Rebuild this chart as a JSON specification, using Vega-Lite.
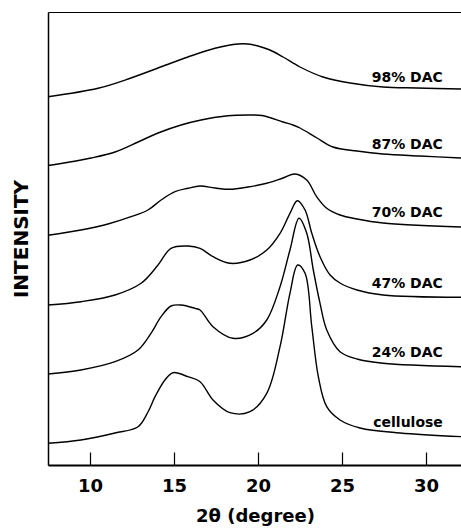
{
  "$schema": "https://vega.github.io/schema/vega-lite/v6.json",
  "width": 414,
  "height": 453,
  "autosize": {"type": "none"},
  "padding": {"left": 48, "top": 12, "right": 0, "bottom": 63},
  "background": "white",
  "config": {"view": {"stroke": null}, "font": "DejaVu Sans"},
  "resolve": {"axis": {"x": "independent"}},
  "datasets": {
    "curves": [
      {"series": "98", "angle": 7.5, "intensity": 368.3},
      {"series": "98", "angle": 10.48, "intensity": 376.7},
      {"series": "98", "angle": 12.44, "intensity": 387},
      {"series": "98", "angle": 14.05, "intensity": 397},
      {"series": "98", "angle": 15.83, "intensity": 408},
      {"series": "98", "angle": 17.44, "intensity": 416.7},
      {"series": "98", "angle": 18.81, "intensity": 421},
      {"series": "98", "angle": 19.4, "intensity": 421},
      {"series": "98", "angle": 20.0, "intensity": 419},
      {"series": "98", "angle": 20.71, "intensity": 415},
      {"series": "98", "angle": 21.49, "intensity": 408},
      {"series": "98", "angle": 22.5, "intensity": 398},
      {"series": "98", "angle": 23.87, "intensity": 388},
      {"series": "98", "angle": 25.48, "intensity": 382},
      {"series": "98", "angle": 27.44, "intensity": 378},
      {"series": "98", "angle": 29.46, "intensity": 377},
      {"series": "98", "angle": 32.14, "intensity": 376},

      {"series": "87", "angle": 7.5, "intensity": 299.5},
      {"series": "87", "angle": 8.1, "intensity": 301},
      {"series": "87", "angle": 10.06, "intensity": 307},
      {"series": "87", "angle": 11.49, "intensity": 313},
      {"series": "87", "angle": 12.86, "intensity": 323},
      {"series": "87", "angle": 14.05, "intensity": 332},
      {"series": "87", "angle": 15.42, "intensity": 340},
      {"series": "87", "angle": 16.61, "intensity": 345},
      {"series": "87", "angle": 18.21, "intensity": 349.3},
      {"series": "87", "angle": 19.4, "intensity": 350},
      {"series": "87", "angle": 20.24, "intensity": 349.5},
      {"series": "87", "angle": 21.49, "intensity": 343},
      {"series": "87", "angle": 22.08, "intensity": 340},
      {"series": "87", "angle": 22.5, "intensity": 337},
      {"series": "87", "angle": 23.51, "intensity": 327},
      {"series": "87", "angle": 24.46, "intensity": 318},
      {"series": "87", "angle": 25.89, "intensity": 314},
      {"series": "87", "angle": 27.44, "intensity": 311},
      {"series": "87", "angle": 29.64, "intensity": 309},
      {"series": "87", "angle": 32.14, "intensity": 307},

      {"series": "70", "angle": 7.5, "intensity": 229.7},
      {"series": "70", "angle": 9.46, "intensity": 235},
      {"series": "70", "angle": 11.07, "intensity": 241},
      {"series": "70", "angle": 12.44, "intensity": 248.3},
      {"series": "70", "angle": 13.45, "intensity": 255},
      {"series": "70", "angle": 14.23, "intensity": 265},
      {"series": "70", "angle": 15.06, "intensity": 273.3},
      {"series": "70", "angle": 15.83, "intensity": 276.7},
      {"series": "70", "angle": 16.55, "intensity": 279},
      {"series": "70", "angle": 17.44, "intensity": 277},
      {"series": "70", "angle": 18.33, "intensity": 275.7},
      {"series": "70", "angle": 19.4, "intensity": 278},
      {"series": "70", "angle": 20.52, "intensity": 281.7},
      {"series": "70", "angle": 21.49, "intensity": 287},
      {"series": "70", "angle": 22.2, "intensity": 291},
      {"series": "70", "angle": 22.9, "intensity": 285},
      {"series": "70", "angle": 23.49, "intensity": 268.3},
      {"series": "70", "angle": 24.09, "intensity": 256.7},
      {"series": "70", "angle": 24.88, "intensity": 250},
      {"series": "70", "angle": 25.89, "intensity": 246},
      {"series": "70", "angle": 27.44, "intensity": 242},
      {"series": "70", "angle": 32.14, "intensity": 238},

      {"series": "47", "angle": 7.5, "intensity": 160},
      {"series": "47", "angle": 9.46, "intensity": 163.3},
      {"series": "47", "angle": 11.49, "intensity": 170},
      {"series": "47", "angle": 13.04, "intensity": 181.7},
      {"series": "47", "angle": 14.05, "intensity": 200},
      {"series": "47", "angle": 14.82, "intensity": 216.7},
      {"series": "47", "angle": 15.83, "intensity": 219},
      {"series": "47", "angle": 16.55, "intensity": 216.7},
      {"series": "47", "angle": 17.32, "intensity": 208.3},
      {"series": "47", "angle": 18.33, "intensity": 201.7},
      {"series": "47", "angle": 19.52, "intensity": 205},
      {"series": "47", "angle": 20.52, "intensity": 215},
      {"series": "47", "angle": 21.31, "intensity": 231.7},
      {"series": "47", "angle": 21.9, "intensity": 251.7},
      {"series": "47", "angle": 22.34, "intensity": 264.3},
      {"series": "47", "angle": 22.8, "intensity": 255},
      {"series": "47", "angle": 23.2, "intensity": 231.7},
      {"series": "47", "angle": 23.69, "intensity": 208.3},
      {"series": "47", "angle": 24.29, "intensity": 190},
      {"series": "47", "angle": 24.88, "intensity": 182},
      {"series": "47", "angle": 25.89, "intensity": 175},
      {"series": "47", "angle": 27.44, "intensity": 170},
      {"series": "47", "angle": 32.14, "intensity": 167.7},

      {"series": "24", "angle": 7.5, "intensity": 91},
      {"series": "24", "angle": 9.46, "intensity": 95},
      {"series": "24", "angle": 11.49, "intensity": 103.3},
      {"series": "24", "angle": 12.86, "intensity": 115},
      {"series": "24", "angle": 13.63, "intensity": 131.7},
      {"series": "24", "angle": 14.23, "intensity": 148.3},
      {"series": "24", "angle": 14.82, "intensity": 159},
      {"series": "24", "angle": 15.42, "intensity": 160},
      {"series": "24", "angle": 16.25, "intensity": 156.7},
      {"series": "24", "angle": 16.55, "intensity": 155},
      {"series": "24", "angle": 17.32, "intensity": 138.3},
      {"series": "24", "angle": 18.51, "intensity": 126.7},
      {"series": "24", "angle": 19.7, "intensity": 131.7},
      {"series": "24", "angle": 20.52, "intensity": 145},
      {"series": "24", "angle": 21.31, "intensity": 178.3},
      {"series": "24", "angle": 21.9, "intensity": 215},
      {"series": "24", "angle": 22.44, "intensity": 246.7},
      {"series": "24", "angle": 22.9, "intensity": 231.7},
      {"series": "24", "angle": 23.29, "intensity": 195},
      {"series": "24", "angle": 23.69, "intensity": 161.7},
      {"series": "24", "angle": 24.09, "intensity": 135},
      {"series": "24", "angle": 24.88, "intensity": 113.3},
      {"series": "24", "angle": 25.89, "intensity": 106},
      {"series": "24", "angle": 27.44, "intensity": 101.7},
      {"series": "24", "angle": 32.14, "intensity": 98.3},

      {"series": "cel", "angle": 7.5, "intensity": 21.7},
      {"series": "cel", "angle": 9.46, "intensity": 25},
      {"series": "cel", "angle": 11.49, "intensity": 32},
      {"series": "cel", "angle": 12.86, "intensity": 38.3},
      {"series": "cel", "angle": 13.45, "intensity": 53},
      {"series": "cel", "angle": 13.87, "intensity": 68.3},
      {"series": "cel", "angle": 14.46, "intensity": 85},
      {"series": "cel", "angle": 14.94, "intensity": 92.3},
      {"series": "cel", "angle": 15.83, "intensity": 88.3},
      {"series": "cel", "angle": 16.55, "intensity": 83.3},
      {"series": "cel", "angle": 17.32, "intensity": 65},
      {"series": "cel", "angle": 18.33, "intensity": 52.3},
      {"series": "cel", "angle": 19.52, "intensity": 53.3},
      {"series": "cel", "angle": 20.52, "intensity": 71.7},
      {"series": "cel", "angle": 21.31, "intensity": 118.3},
      {"series": "cel", "angle": 21.9, "intensity": 171.7},
      {"series": "cel", "angle": 22.36, "intensity": 200},
      {"series": "cel", "angle": 22.8, "intensity": 191.7},
      {"series": "cel", "angle": 23.2, "intensity": 138.3},
      {"series": "cel", "angle": 23.59, "intensity": 88.3},
      {"series": "cel", "angle": 24.09, "intensity": 58.3},
      {"series": "cel", "angle": 24.88, "intensity": 45},
      {"series": "cel", "angle": 26.07, "intensity": 37},
      {"series": "cel", "angle": 28.45, "intensity": 32},
      {"series": "cel", "angle": 32.14, "intensity": 28.3}
    ],
    "labels": [
      {"label": "98% DAC", "angle": 31.0, "intensity": 383.3},
      {"label": "87% DAC", "angle": 31.0, "intensity": 316},
      {"label": "70% DAC", "angle": 31.0, "intensity": 248.3},
      {"label": "47% DAC", "angle": 31.0, "intensity": 176.7},
      {"label": "24% DAC", "angle": 31.0, "intensity": 108.3},
      {"label": "cellulose", "angle": 31.0, "intensity": 38}
    ]
  },
  "layer": [
    {
      "data": {"name": "curves"},
      "mark": {"type": "line", "color": "black", "strokeWidth": 1.4, "interpolate": "catmull-rom"},
      "encoding": {
        "x": {
          "field": "angle", "type": "quantitative",
          "scale": {"domain": [7.5, 32.14], "nice": false, "zero": false},
          "axis": {
            "orient": "bottom",
            "values": [10, 15, 20, 25, 30],
            "grid": false,
            "tickSize": -13, "tickWidth": 1.2, "tickColor": "black",
            "domainColor": "black", "domainWidth": 2,
            "labelFont": "DejaVu Sans", "labelFontWeight": "bold", "labelFontSize": 18,
            "labelColor": "black", "labelPadding": 25, "labelFlush": false,
            "title": "2θ (degree)", "titleFont": "DejaVu Sans", "titleFontWeight": "bold",
            "titleFontSize": 18, "titleColor": "black", "titlePadding": 12
          }
        },
        "y": {
          "field": "intensity", "type": "quantitative",
          "scale": {"domain": [0, 453], "nice": false, "zero": false},
          "axis": {
            "ticks": false, "labels": false, "grid": false,
            "domainColor": "black", "domainWidth": 1.5,
            "title": "INTENSITY", "titleFont": "DejaVu Sans", "titleFontWeight": "bold",
            "titleFontSize": 20, "titleColor": "black", "titlePadding": 17
          }
        },
        "detail": {"field": "series"}
      }
    },
    {
      "data": {"name": "labels"},
      "mark": {"type": "text", "align": "right", "baseline": "alphabetic", "font": "DejaVu Sans", "fontWeight": "bold", "fontSize": 14, "color": "black"},
      "encoding": {
        "x": {
          "field": "angle", "type": "quantitative",
          "axis": {"orient": "top", "ticks": false, "labels": false, "grid": false, "title": null, "domain": true, "domainColor": "black", "domainWidth": 1.2}
        },
        "y": {"field": "intensity", "type": "quantitative"},
        "text": {"field": "label"}
      }
    }
  ]
}
